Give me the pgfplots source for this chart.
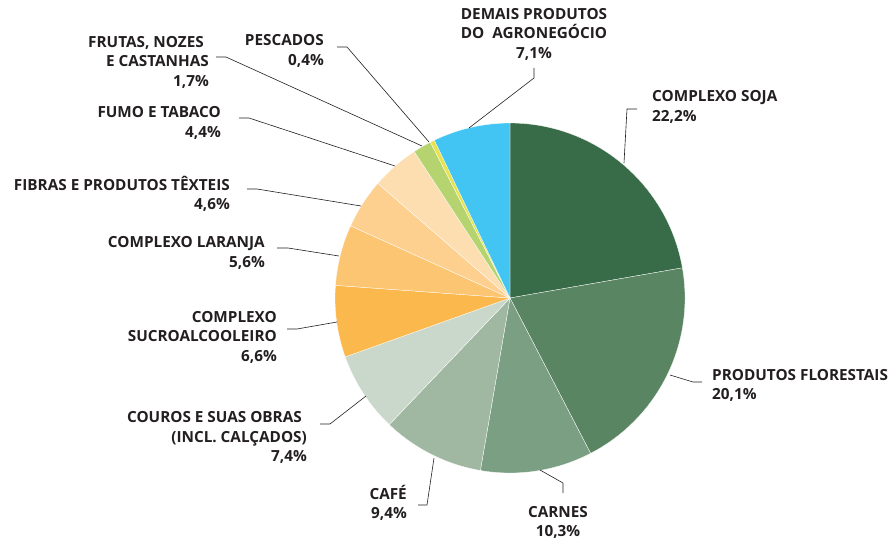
\documentclass[border=0pt]{standalone}
\usepackage{pgfplots}
\pgfplotsset{compat=1.18}
\usepackage{pgfplotstable}
\usepackage{fontspec}
\setmainfont{Open Sans}

\definecolor{c0}{HTML}{386B47}
\definecolor{c1}{HTML}{5A8563}
\definecolor{c2}{HTML}{7A9F82}
\definecolor{c3}{HTML}{A0B8A1}
\definecolor{c4}{HTML}{CAD8CB}
\definecolor{c5}{HTML}{FBB84C}
\definecolor{c6}{HTML}{FCC572}
\definecolor{c7}{HTML}{FDD08F}
\definecolor{c8}{HTML}{FDDEB0}
\definecolor{c9}{HTML}{B5D46F}
\definecolor{c10}{HTML}{E8E34A}
\definecolor{c11}{HTML}{42C5F2}
\definecolor{txt}{HTML}{231F20}

% share of agribusiness exports, clockwise from the top
\pgfplotstableread[col sep=comma]{
name,value
Complexo soja,22.2
Produtos florestais,20.1
Carnes,10.3
Cafe,9.4
Couros,7.4
Sucroalcooleiro,6.6
Laranja,5.6
Fibras,4.6
Fumo,4.4
Frutas,1.7
Pescados,0.4
Demais,7.1
}\datatable

\begin{document}
\begin{tikzpicture}[
    lbl/.style={font=\bfseries\fontsize{15.3}{19.5}\selectfont, text=txt, inner sep=0pt},
    lead/.style={draw=txt, line width=0.6pt},
]
\begin{axis}[
    width=892pt, height=543pt, scale only axis,
    xmin=0, xmax=892, ymin=0, ymax=543,
    y dir=reverse,
    hide axis, clip=false,
]
\def\total{99.8}
\gdef\cum{0}
\pgfplotsinvokeforeach{0,...,11}{
    \pgfplotstablegetelem{#1}{value}\of\datatable
    \let\v\pgfplotsretval
    \pgfmathsetmacro\sa{90-\cum/\total*360}
    \pgfmathsetmacro\sb{90-(\cum+\v)/\total*360}
    \edef\temp{\noexpand\fill[c#1, draw=white, line width=0.3pt]
        (axis cs:510,298) -- ++(\sa:175pt)
        arc[start angle=\sa, end angle=\sb, radius=175pt] -- cycle;}
    \temp
    \pgfmathparse{\cum+\v}
    \xdef\cum{\pgfmathresult}
}

% labels
\node[lbl, align=center] at (axis cs:534,34) {DEMAIS PRODUTOS\\DO\ \ AGRONEGÓCIO\\7,1\%};
\draw[lead] (axis cs:534,68) -- (axis cs:534,78) -- (axis cs:469,128);

\node[lbl, align=left, anchor=west] at (axis cs:652,107) {COMPLEXO SOJA\\22,2\%};
\draw[lead] (axis cs:637,109) -- (axis cs:627,109) -- (axis cs:624,163);

\node[lbl, align=left, anchor=west] at (axis cs:712,385.5) {PRODUTOS FLORESTAIS\\20,1\%};
\draw[lead] (axis cs:670,375) -- (axis cs:693,382) -- (axis cs:702,382);

\node[lbl, align=center] at (axis cs:558,522.5) {CARNES\\10,3\%};
\draw[lead] (axis cs:540,470) -- (axis cs:563,483) -- (axis cs:563,493);

\node[lbl, align=right, anchor=east] at (axis cs:407,503) {CAFÉ\\9,4\%};
\draw[lead] (axis cs:418,505) -- (axis cs:427,505) -- (axis cs:434,458);

\node[lbl, align=right, anchor=east] at (axis cs:307,437.5) {COUROS E SUAS OBRAS\hspace*{5pt}\\(INCL. CALÇADOS)\\7,4\%};
\draw[lead] (axis cs:320,424) -- (axis cs:330,424) -- (axis cs:366,396);

\node[lbl, align=right, anchor=east] at (axis cs:277,337) {COMPLEXO\\SUCROALCOOLEIRO\\6,6\%};
\draw[lead] (axis cs:287,329) -- (axis cs:297,329) -- (axis cs:337,322);

\node[lbl, align=right, anchor=east] at (axis cs:265,253) {COMPLEXO LARANJA\\5,6\%};
\draw[lead] (axis cs:277,248) -- (axis cs:288,248) -- (axis cs:339,256);

\node[lbl, align=right, anchor=east] at (axis cs:230,194) {FIBRAS E PRODUTOS TÊXTEIS\\4,6\%};
\draw[lead] (axis cs:247,189) -- (axis cs:257,189) -- (axis cs:361,206);

\node[lbl, align=right, anchor=east] at (axis cs:221,123) {FUMO E TABACO\\4,4\%};
\draw[lead] (axis cs:239,118) -- (axis cs:249,118) -- (axis cs:395,166);

\node[lbl, align=right, anchor=east] at (axis cs:209,62) {FRUTAS, NOZES\hspace*{5pt}\\E CASTANHAS\\1,7\%};
\draw[lead] (axis cs:216,57) -- (axis cs:226,57) -- (axis cs:422,146);

\node[lbl, align=right, anchor=east] at (axis cs:324,51) {PESCADOS\\0,4\%};
\draw[lead] (axis cs:337,47) -- (axis cs:347,47) -- (axis cs:429,142);
\end{axis}
\pgfresetboundingbox
\path (current axis.south west) rectangle (current axis.north east);
\end{tikzpicture}
\end{document}
